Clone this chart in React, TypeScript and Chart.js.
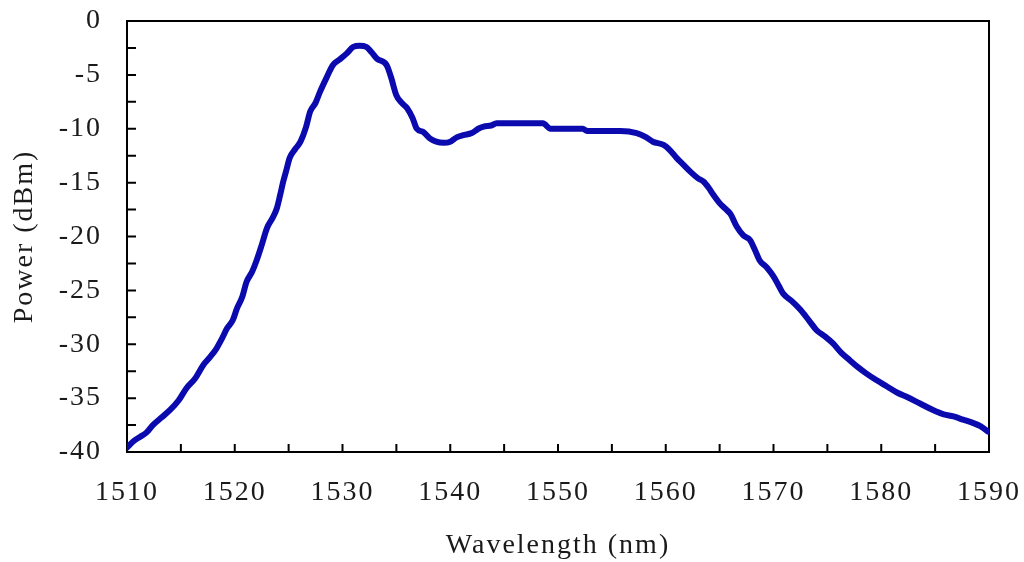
import React, { useEffect, useRef } from "react";
import { Chart, registerables } from "chart.js";

Chart.register(...registerables);

const wavelengths: number[] = [
  1510.0, 1510.6, 1511.2, 1511.8, 1512.4, 1513.2, 1514.0, 1514.8, 1515.5, 1516.3,
  1517.1, 1517.7, 1518.3, 1518.8, 1519.3, 1519.8, 1520.2, 1520.7, 1521.1, 1521.6,
  1522.0, 1522.5, 1523.0, 1523.5, 1523.9, 1524.2, 1524.5, 1524.8, 1525.1, 1525.6,
  1526.1, 1526.6, 1527.0, 1527.5, 1527.9, 1528.5, 1529.1, 1529.7, 1530.4, 1531.0,
  1531.6, 1532.2, 1532.7, 1533.2, 1534.1, 1534.5, 1535.0, 1535.5, 1536.0, 1536.5,
  1536.9, 1537.5, 1538.1, 1538.7, 1539.4, 1540.0, 1540.6, 1541.2, 1542.0, 1542.6,
  1543.1, 1543.8, 1544.3, 1546.0, 1548.6, 1549.3, 1551.0, 1552.3, 1552.7, 1554.5,
  1555.8, 1557.3, 1558.2, 1558.8, 1559.8, 1560.4, 1561.0, 1561.7, 1562.3, 1563.0,
  1563.5, 1564.0, 1564.4, 1565.0, 1565.5, 1566.0, 1566.6, 1567.2, 1567.8, 1568.3,
  1568.7, 1569.4, 1570.0, 1570.5, 1570.9, 1571.7, 1572.5, 1573.3, 1574.0, 1574.8,
  1575.5, 1576.3, 1577.1, 1577.8, 1578.6, 1579.5, 1580.5, 1581.5, 1582.4, 1583.6,
  1584.8, 1585.8, 1586.7, 1587.6, 1588.5, 1589.2, 1589.9,
];

const powers: number[] = [
  -39.6, -39.0, -38.6, -38.2, -37.5, -36.8, -36.1, -35.2, -34.1, -33.2,
  -31.9, -31.2, -30.4, -29.5, -28.5, -27.8, -26.7, -25.6, -24.2, -23.3,
  -22.3, -20.8, -19.2, -18.3, -17.4, -16.2, -14.9, -13.8, -12.7, -11.9,
  -11.2, -9.9, -8.4, -7.6, -6.6, -5.3, -4.1, -3.6, -3.0, -2.4,
  -2.3, -2.4, -2.9, -3.5, -4.1, -5.2, -6.9, -7.6, -8.1, -9.0,
  -10.0, -10.3, -10.9, -11.2, -11.3, -11.2, -10.8, -10.6, -10.4, -10.0,
  -9.8, -9.7, -9.5, -9.5, -9.5, -10.0, -10.0, -10.0, -10.2, -10.2,
  -10.2, -10.4, -10.8, -11.2, -11.5, -12.0, -12.7, -13.4, -14.0, -14.6,
  -14.9, -15.5, -16.1, -16.9, -17.4, -17.9, -19.1, -19.9, -20.3, -21.3,
  -22.2, -22.9, -23.7, -24.6, -25.3, -26.0, -26.8, -27.8, -28.7, -29.3,
  -29.9, -30.8, -31.5, -32.1, -32.7, -33.3, -33.9, -34.5, -34.9, -35.5,
  -36.1, -36.5, -36.7, -37.0, -37.3, -37.6, -38.1,
];

const xTickMarks: number[] = [1510, 1515, 1520, 1525, 1530, 1535, 1540, 1545, 1550, 1555, 1560, 1565, 1570, 1575, 1580, 1585, 1590];
const yTickMarks: number[] = [0, -2.5, -5, -7.5, -10, -12.5, -15, -17.5, -20, -22.5, -25, -27.5, -30, -32.5, -35, -37.5, -40];

const FONT_FAMILY = "'Liberation Serif', 'Times New Roman', serif";
const TEXT_COLOR = "#1a1a1a";
const LETTER_SPACING = "2px";

const spacingPlugin = {
  id: "letterSpacing",
  beforeLayout(chart: any) {
    (chart.ctx as any).letterSpacing = LETTER_SPACING;
  },
  beforeDraw(chart: any) {
    (chart.ctx as any).letterSpacing = LETTER_SPACING;
  },
};

const framePlugin = {
  id: "frameTicks",
  beforeDatasetsDraw(chart: any) {
    const { ctx, chartArea } = chart;
    const xs = chart.scales.x;
    const ys = chart.scales.y;
    ctx.save();
    ctx.strokeStyle = "#000";
    ctx.lineWidth = 2;
    ctx.beginPath();
    for (const v of xTickMarks) {
      const px = xs.getPixelForValue(v);
      ctx.moveTo(px, chartArea.bottom);
      ctx.lineTo(px, chartArea.bottom - 8);
    }
    for (const v of yTickMarks) {
      const py = ys.getPixelForValue(v);
      ctx.moveTo(chartArea.left, py);
      ctx.lineTo(chartArea.left + 9, py);
    }
    ctx.stroke();
    ctx.strokeRect(chartArea.left, chartArea.top, chartArea.right - chartArea.left, chartArea.bottom - chartArea.top);
    ctx.restore();
  },
};

const zeroPadding = (scale: any) => {
  scale.paddingTop = 0;
  scale.paddingBottom = 0;
  scale.paddingLeft = 0;
  scale.paddingRight = 0;
};

export default function App() {
  const canvasRef = useRef<HTMLCanvasElement | null>(null);

  useEffect(() => {
    if (!canvasRef.current) return;
    const chart = new Chart(canvasRef.current, {
      type: "line",
      data: {
        datasets: [
          {
            data: wavelengths.map((w, i) => ({ x: w, y: powers[i] })),
            borderColor: "#0a0aae",
            borderWidth: 6,
            pointRadius: 0,
            cubicInterpolationMode: "monotone",
            fill: false,
            borderJoinStyle: "round",
            borderCapStyle: "round",
          },
        ],
      },
      options: {
        animation: false,
        responsive: true,
        maintainAspectRatio: false,
        layout: { padding: { top: 21, right: 35, left: 0, bottom: 0 } },
        plugins: { legend: { display: false }, tooltip: { enabled: false } },
        scales: {
          x: {
            type: "linear",
            min: 1510,
            max: 1590,
            grid: { display: false, drawTicks: false },
            border: { display: false },
            ticks: {
              stepSize: 10,
              autoSkip: false,
              maxRotation: 0,
              padding: 24,
              color: TEXT_COLOR,
              font: { family: FONT_FAMILY, size: 28 },
              callback: (v: any) => String(v),
            },
            title: {
              display: true,
              text: "Wavelength (nm)",
              color: TEXT_COLOR,
              font: { family: FONT_FAMILY, size: 28 },
              padding: { top: 0, bottom: 0 },
            },
            afterFit: (scale: any) => {
              scale.height = 110;
              zeroPadding(scale);
            },
          },
          y: {
            type: "linear",
            min: -40,
            max: 0,
            grid: { display: false, drawTicks: false },
            border: { display: false },
            ticks: {
              stepSize: 5,
              padding: 25,
              color: TEXT_COLOR,
              font: { family: FONT_FAMILY, size: 28 },
              callback: (v: any) => String(v),
            },
            title: {
              display: true,
              text: "Power (dBm)",
              color: TEXT_COLOR,
              font: { family: FONT_FAMILY, size: 28 },
              padding: { top: 8, bottom: 0 },
            },
            afterFit: (scale: any) => {
              scale.width = 127;
              zeroPadding(scale);
            },
          },
        },
      },
      plugins: [spacingPlugin, framePlugin],
    });
    return () => chart.destroy();
  }, []);

  return (
    <div style={{ position: "absolute", left: 0, top: 0, width: 1024, height: 562, background: "#fff" }}>
      <canvas ref={canvasRef} />
    </div>
  );
}
